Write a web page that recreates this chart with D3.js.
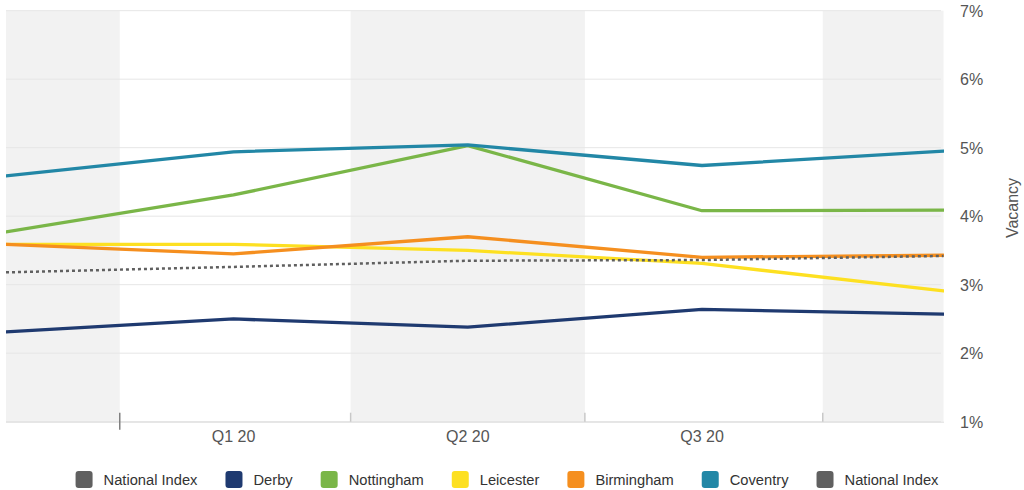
<!DOCTYPE html>
<html>
<head>
<meta charset="utf-8">
<script src="https://cdn.jsdelivr.net/npm/d3@7"></script>
<style>
  html, body { margin: 0; padding: 0; background: #fff; }
  svg { display: block; font-family: "Liberation Sans", Arial, Helvetica, sans-serif; }
</style>
</head>
<body>
<svg id="chart" width="1024" height="490"></svg>
<script>
// ---- data ----
const categories = ["Q4 19", "Q1 20", "Q2 20", "Q3 20", "Q4 20"];
const xTickLabels = ["Q1 20", "Q2 20", "Q3 20"];
const yTicks = [1, 2, 3, 4, 5, 6, 7];

const nationalIndex = [3.18, 3.26, 3.35, 3.36, 3.42];
const derby        = [2.31, 2.50, 2.38, 2.64, 2.57];
const nottingham   = [3.77, 4.31, 5.03, 4.08, 4.09];
const leicester    = [3.59, 3.59, 3.50, 3.31, 2.91];
const birmingham   = [3.59, 3.45, 3.70, 3.40, 3.43];
const coventry     = [4.59, 4.94, 5.04, 4.74, 4.95];

const seriesNames  = ["National Index", "Derby", "Nottingham", "Leicester", "Birmingham", "Coventry", "National Index"];
const seriesColors = ["#606060", "#1f3a70", "#7ab648", "#fde021", "#f58f1f", "#2287a6", "#606060"];
const seriesData   = [null, derby, nottingham, leicester, birmingham, coventry, nationalIndex];

// ---- layout ----
const svg = d3.select("#chart");
const L = 6, R = 944, T = 10.7, B = 421.7;

const x = d3.scaleLinear()
  .domain([0, 1, 3, 4])
  .range([L, 233.5, 702, R - 0.5])
  .clamp(true);
const y = d3.scaleLinear().domain([1, 7]).range([B, T]);

// alternating bands
const bandEdges = [-0.5, 0.5, 1.5, 2.5, 3.5, 4.5];
const bands = [];
for (let i = 0; i < bandEdges.length - 1; i++) bands.push({ a: bandEdges[i], b: bandEdges[i + 1], gray: i % 2 === 0 });
svg.append("g").selectAll("rect").data(bands.filter(d => d.gray)).join("rect")
  .attr("x", d => x(d.a)).attr("width", d => x(d.b) - x(d.a))
  .attr("y", T).attr("height", B - T)
  .attr("fill", "#f2f2f2");

// gridlines
svg.append("g").selectAll("line").data(yTicks).join("line")
  .attr("x1", L).attr("x2", R - 3)
  .attr("y1", d => y(d)).attr("y2", d => y(d))
  .attr("stroke", "#e6e6e6").attr("stroke-width", 1);

// x axis line
svg.append("line").attr("x1", L).attr("x2", R).attr("y1", B + 0.5).attr("y2", B + 0.5)
  .attr("stroke", "#dcdcdc").attr("stroke-width", 1);

// ticks
const tickPos = [0.5, 1.5, 2.5, 3.5];
svg.append("g").selectAll("line").data(tickPos).join("line")
  .attr("x1", d => x(d)).attr("x2", d => x(d))
  .attr("y1", B - 9).attr("y2", (d, i) => i === 0 ? B + 8 : B)
  .attr("stroke", (d, i) => i === 0 ? "#808080" : "#c8c8c8")
  .attr("stroke-width", 1.5);

// x tick labels
svg.append("g").selectAll("text").data(xTickLabels).join("text")
  .attr("x", d => x(categories.indexOf(d)))
  .attr("y", 442)
  .attr("text-anchor", "middle")
  .attr("font-size", 16)
  .attr("fill", "#555")
  .text(d => d);

// y axis labels (right)
svg.append("g").selectAll("text").data(yTicks).join("text")
  .attr("x", 960)
  .attr("y", d => y(d) + 6)
  .attr("font-size", 16)
  .attr("fill", "#555")
  .text(d => d + "%");

svg.append("text")
  .attr("transform", "translate(1018,208) rotate(-90)")
  .attr("text-anchor", "middle")
  .attr("font-size", 16)
  .attr("fill", "#555")
  .text("Vacancy");

// lines
const clipId = "plotclip";
svg.append("clipPath").attr("id", clipId).append("rect")
  .attr("x", L).attr("y", 0).attr("width", R - L).attr("height", B + 2);

const line = d3.line().x((d, i) => x(i)).y(d => y(d));
const gLines = svg.append("g").attr("clip-path", `url(#${clipId})`);
seriesData.forEach((data, si) => {
  if (!data) return;
  const isDotted = si === seriesData.length - 1;
  gLines.append("path")
    .datum(data)
    .attr("d", line)
    .attr("fill", "none")
    .attr("stroke", seriesColors[si])
    .attr("stroke-width", isDotted ? 2.5 : 3.3)
    .attr("stroke-dasharray", isDotted ? "3,3" : null)
    .attr("stroke-linejoin", "round")
    .attr("stroke-linecap", isDotted ? "butt" : "round");
});

// legend
const legend = svg.append("g");
const items = legend.selectAll("g").data(seriesNames).join("g");
items.append("rect")
  .attr("x", 0).attr("y", 471).attr("width", 17).attr("height", 17)
  .attr("rx", 3).attr("ry", 3)
  .attr("fill", (d, i) => seriesColors[i]);
items.append("text")
  .attr("x", 28).attr("y", 485)
  .attr("font-size", 14.7)
  .attr("fill", "#333")
  .text(d => d);
let widths = [];
items.each(function() {
  widths.push(28 + d3.select(this).select("text").node().getComputedTextLength());
});
const gap = 28;
const total = d3.sum(widths) + gap * (widths.length - 1);
let cx = 507 - total / 2;
items.each(function(d, i) {
  d3.select(this).attr("transform", `translate(${cx},0)`);
  cx += widths[i] + gap;
});
</script>
</body>
</html>
